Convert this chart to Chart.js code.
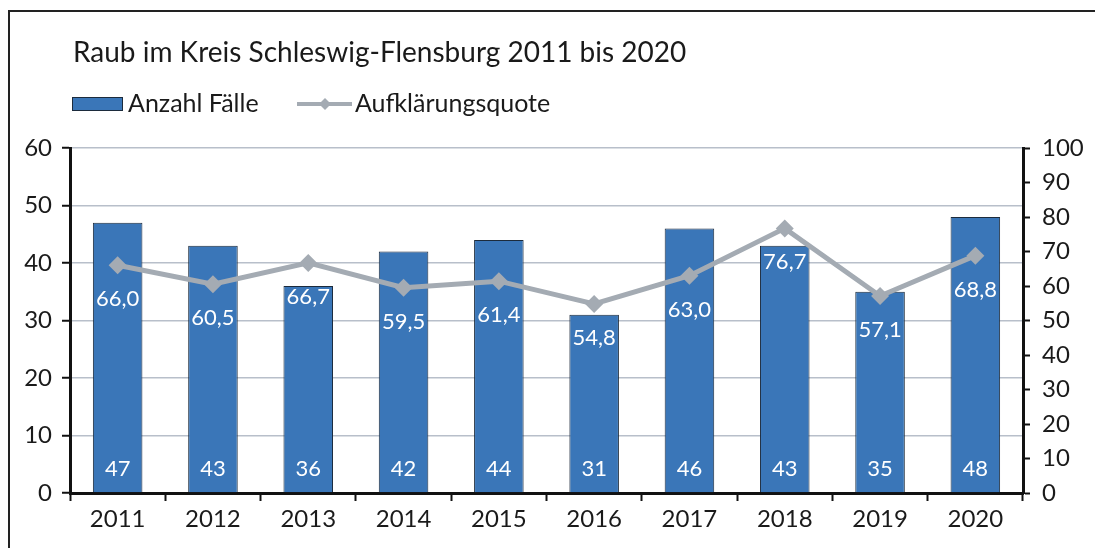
<!DOCTYPE html>
<html>
<head>
<meta charset="utf-8">
<script src="https://cdn.jsdelivr.net/npm/chart.js@4"></script>
<style>
  body { margin: 0; background: #fff; }
  .wrap { position: relative; width: 1095px; height: 548px; overflow: hidden; }
  .frame { position: absolute; left: 8px; top: 10px; width: 1200px; height: 600px; border-left: 2px solid #222; border-top: 2px solid #222; }
  canvas { position: absolute; left: 0; top: 0; }
</style>
</head>
<body>
<div class="wrap">
  <div class="frame"></div>
  <canvas class="myChart" width="1095" height="548"></canvas>
</div>
<script>
const FONT = 'Lato'
const years = ['2011','2012','2013','2014','2015','2016','2017','2018','2019','2020']
const faelle = [47, 43, 36, 42, 44, 31, 46, 43, 35, 48]
const quote = [66.0, 60.5, 66.7, 59.5, 61.4, 54.8, 63.0, 76.7, 57.1, 68.8]
const titleText = 'Raub im Kreis Schleswig-Flensburg 2011 bis 2020'
const legendBar = 'Anzahl Fälle'
const legendLine = 'Aufklärungsquote'

const BLUE = '#3a76b8'
const GREY = '#a4abb3'

const fmt = (v) => v.toFixed(1).replace('.', ',')

// title, legend and value labels
const decoPlugin = {
    id: 'deco',
    afterDraw(chart) {
        const ctx = chart.ctx
        ctx.save()
        ctx.fillStyle = '#1a1a1a'
        ctx.font = '28px ' + FONT
        ctx.textBaseline = 'alphabetic'
        ctx.textAlign = 'left'
        ctx.fillText(titleText, 73, 62)

        // legend
        ctx.fillStyle = BLUE
        ctx.fillRect(72, 97, 51, 14)
        ctx.strokeStyle = '#1c2b3c'
        ctx.lineWidth = 1
        ctx.strokeRect(72.5, 97.5, 50, 13)
        ctx.fillStyle = '#1a1a1a'
        ctx.font = '25px ' + FONT
        ctx.textBaseline = 'middle'
        ctx.fillText(legendBar, 128, 104)

        ctx.strokeStyle = GREY
        ctx.lineWidth = 4
        ctx.beginPath()
        ctx.moveTo(297, 104)
        ctx.lineTo(352, 104)
        ctx.stroke()
        ctx.fillStyle = GREY
        ctx.beginPath()
        ctx.moveTo(325, 98); ctx.lineTo(331, 104); ctx.lineTo(325, 110); ctx.lineTo(319, 104)
        ctx.closePath()
        ctx.fill()
        ctx.fillStyle = '#1a1a1a'
        ctx.fillText(legendLine, 355, 104)
        ctx.restore()
    },
    afterDatasetsDraw(chart) {
        const ctx = chart.ctx
        ctx.save()
        ctx.fillStyle = '#ffffff'
        ctx.font = '22px ' + FONT
        ctx.textAlign = 'center'
        ctx.textBaseline = 'middle'
        const barMeta = chart.getDatasetMeta(0)
        barMeta.data.forEach((el, i) => {
            ctx.fillText(String(faelle[i]), el.x, chart.chartArea.bottom - 24)
        })
        const lineMeta = chart.getDatasetMeta(1)
        lineMeta.data.forEach((el, i) => {
            ctx.fillText(fmt(quote[i]), el.x, el.y + 34)
        })
        ctx.restore()
    }
}

const chartLoader = (link) => {
    const data = {
        labels: years,
        datasets: [{
            type: 'bar',
            label: legendBar,
            data: faelle,
            yAxisID: 'y',
            backgroundColor: BLUE,
            borderColor: '#1c2b3c',
            borderWidth: 1,
            categoryPercentage: 1,
            barPercentage: 0.52,
            order: 1,
        }, {
            type: 'line',
            label: legendLine,
            data: quote,
            yAxisID: 'y2',
            borderColor: GREY,
            backgroundColor: GREY,
            borderWidth: 5,
            pointStyle: 'rectRot',
            pointRadius: 9,
            pointBorderWidth: 0,
            tension: 0,
            order: 0,
        }]
    }

    const tickFont = { family: FONT, size: 24 }
    const config = {
        data: data,
        options: {
            responsive: false,
            animation: false,
            layout: { padding: { top: 148, bottom: 0, left: 0, right: 0 } },
            plugins: {
                legend: { display: false },
                title: { display: false },
                tooltip: { enabled: false },
            },
            scales: {
                x: {
                    grid: { offset: true, drawOnChartArea: false, tickColor: '#111', tickLength: 8, tickWidth: 2 },
                    border: { color: '#111', width: 3 },
                    ticks: { color: '#1a1a1a', font: tickFont, padding: 4 },
                    afterFit: (s) => { s.height = 55 },
                },
                y: {
                    position: 'left',
                    min: 0, max: 60,
                    ticks: { stepSize: 10, color: '#1a1a1a', font: tickFont, padding: 10 },
                    grid: { color: '#b8bfca', lineWidth: 1.5, tickColor: '#111', tickLength: 8, tickWidth: 2 },
                    border: { color: '#111', width: 3 },
                    afterFit: (s) => { s.width = 70 },
                },
                y2: {
                    position: 'right',
                    min: 0, max: 100,
                    ticks: { stepSize: 10, color: '#1a1a1a', font: tickFont, padding: 12 },
                    grid: { drawOnChartArea: false, tickColor: '#111', tickLength: 7, tickWidth: 2 },
                    border: { color: '#111', width: 3 },
                    afterFit: (s) => { s.width = 72 },
                }
            }
        },
        plugins: [decoPlugin]
    }
    return new Chart(link, config)
}

const chrt = document.querySelector('.myChart').getContext('2d')
chartLoader(chrt)
</script>
</body>
</html>
